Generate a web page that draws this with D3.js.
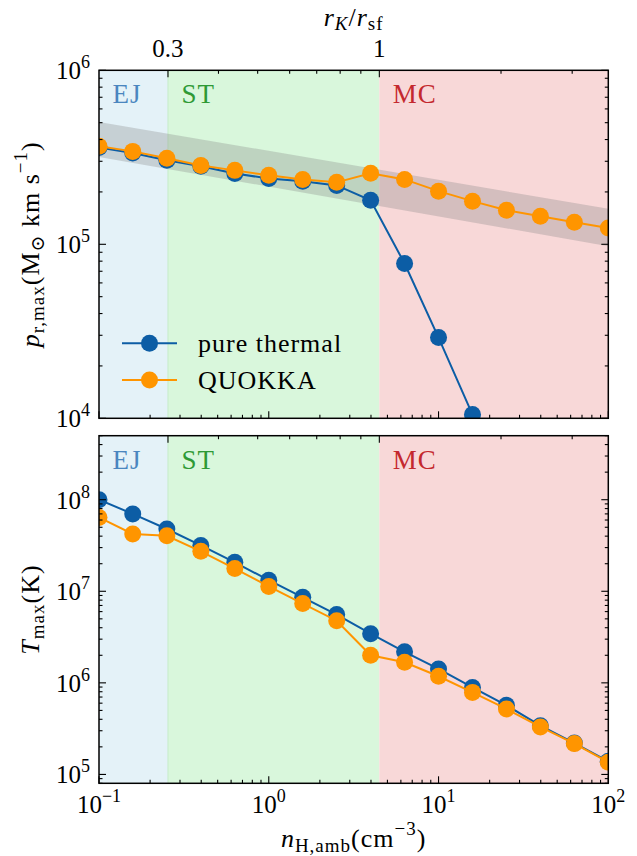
<!DOCTYPE html>
<html>
<head>
<meta charset="utf-8">
<script src="https://cdn.jsdelivr.net/npm/d3@7"></script>
<style>
body { margin: 0; background: #fff; }
svg { font-family: "Liberation Serif", "DejaVu Serif", serif; }
.spine { fill: none; stroke: #000; stroke-width: 1.5; }
.tk { stroke: #000; stroke-width: 1.1; }
.wide { letter-spacing: 1px; }
</style>
</head>
<body>
<script>
// ambient density grid (cm^-3)
var nH = [0.1, 0.158, 0.251, 0.398, 0.631, 1, 1.585, 2.512, 3.981, 6.31, 10, 15.85, 25.12, 39.81, 63.1, 100];
// peak radial momentum (Msun km/s)
var pThermal = [3.60e5, 3.35e5, 3.04e5, 2.81e5, 2.55e5, 2.39e5, 2.30e5, 2.18e5, 1.79e5, 7.75e4, 2.91e4, 1.05e4];
var pQuokka = [3.66e5, 3.42e5, 3.12e5, 2.84e5, 2.66e5, 2.49e5, 2.36e5, 2.27e5, 2.56e5, 2.36e5, 2.02e5, 1.77e5, 1.57e5, 1.45e5, 1.34e5, 1.24e5];
// peak temperature (K)
var tThermal = [1.0e8, 7.0e7, 4.79e7, 3.17e7, 2.07e7, 1.32e7, 8.6e6, 5.56e6, 3.44e6, 2.18e6, 1.42e6, 8.9e5, 5.68e5, 3.41e5, 2.2e5, 1.39e5];
var tQuokka = [6.4e7, 4.22e7, 4.04e7, 2.73e7, 1.77e7, 1.13e7, 7.35e6, 4.77e6, 2.0e6, 1.68e6, 1.18e6, 7.87e5, 5.19e5, 3.3e5, 2.17e5, 1.36e5];
// shaded band
var bandN = [0.1, 100];
var bandLow = [3.18e5, 9.75e4];
var bandHigh = [5.05e5, 1.60e5];
// regimes, edges given in r_K/r_sf
var regionNames = ["EJ", "ST", "MC"];
var regionR = [0.3, 1];
var regionFill = ["#e4f2f8", "#d9f7dc", "#f8d8d8"];
var regionText = ["#4a86bf", "#2e9a35", "#c4282e"];
// top axis r_K/r_sf
var rMajor = [0.3, 1];
var rMinor = [0.4, 0.5, 0.6, 0.7, 0.8, 0.9, 2, 3];
var nAtR1 = 4.48, rSlope = 0.42;
var xTickExp = [-1, 0, 1, 2];
var seriesNames = ["pure thermal", "QUOKKA"];
var seriesColors = ["#0C5DA5", "#FF9500"];

var W = 637, H = 856;
var left = 99, right = 608.3;
var panels = [
    { y0: 70.3, y1: 418.3, dom: [1e4, 1e6], series: [pThermal, pQuokka] },
    { y0: 435.7, y1: 783.3, dom: [8e4, 5e8], series: [tThermal, tQuokka] }
];
var fs = 25, fsSmall = 18, fsT = 26, fsTs = 19;

function nFromR(r) { return nAtR1 * Math.pow(r, 1 / rSlope); }

var x = d3.scaleLog().domain([0.1, 100]).range([left, right]);

var svg = d3.select("body").append("svg")
    .attr("width", W)
    .attr("height", H);

function powText(sel, k) {
    sel.append("tspan").text("10");
    sel.append("tspan")
        .attr("dy", -11)
        .attr("font-size", fsSmall)
        .text(k < 0 ? "\u2212" + (-k) : k);
}

var line = d3.line();

panels.forEach(function(p, pi) {
    var y = d3.scaleLog().domain(p.dom).range([p.y1, p.y0]);
    var g = svg.append("g");
    var cid = "clip" + pi;
    g.append("clipPath").attr("id", cid)
        .append("rect")
        .attr("x", left).attr("y", p.y0)
        .attr("width", right - left).attr("height", p.y1 - p.y0);

    // regime backgrounds
    var edges = [0.1].concat(regionR.map(nFromR)).concat([100]);
    regionNames.forEach(function(name, i) {
        g.append("rect")
            .attr("x", x(edges[i]))
            .attr("y", p.y0)
            .attr("width", x(edges[i + 1]) - x(edges[i]))
            .attr("height", p.y1 - p.y0)
            .attr("fill", regionFill[i]);
        g.append("text")
            .attr("class", "wide")
            .attr("x", x(edges[i]) + 13.5)
            .attr("y", p.y0 + 33)
            .attr("font-size", 27)
            .attr("fill", regionText[i])
            .text(name);
    });
    g.append("line")
        .attr("x1", x(edges[1])).attr("x2", x(edges[1]))
        .attr("y1", p.y0).attr("y2", p.y1)
        .attr("stroke", "#c6ecc9").attr("stroke-width", 1);

    var plot = g.append("g").attr("clip-path", "url(#" + cid + ")");
    if (pi === 0) {
        var area = d3.area()
            .x(function(d, i) { return x(bandN[i]); })
            .y0(function(d, i) { return y(bandLow[i]); })
            .y1(function(d, i) { return y(bandHigh[i]); });
        plot.append("path")
            .datum(bandN)
            .attr("d", area)
            .attr("fill", "#808080")
            .attr("fill-opacity", 0.3);
    }
    p.series.forEach(function(vals, si) {
        var pts = vals.map(function(v, i) { return [x(nH[i]), y(v)]; });
        plot.append("path")
            .attr("d", line(pts))
            .attr("fill", "none")
            .attr("stroke", seriesColors[si])
            .attr("stroke-width", 2);
        plot.selectAll(null)
            .data(pts)
            .enter()
            .append("circle")
            .attr("cx", function(d) { return d[0]; })
            .attr("cy", function(d) { return d[1]; })
            .attr("r", 8.5)
            .attr("fill", seriesColors[si]);
    });

    // y ticks on both sides
    y.ticks().forEach(function(t) {
        var e = Math.log10(t);
        var major = Math.abs(e - Math.round(e)) < 1e-6;
        var len = major ? 7 : 3.5;
        var yy = y(t);
        g.append("line").attr("class", "tk")
            .attr("x1", left).attr("x2", left + len).attr("y1", yy).attr("y2", yy);
        g.append("line").attr("class", "tk")
            .attr("x1", right).attr("x2", right - len).attr("y1", yy).attr("y2", yy);
        if (major) {
            g.append("text")
                .attr("x", 90)
                .attr("y", yy + 9)
                .attr("text-anchor", "end")
                .attr("font-size", fs)
                .call(powText, Math.round(e));
        }
    });
    // n ticks along bottom
    x.ticks().forEach(function(t) {
        var e = Math.log10(t);
        var major = Math.abs(e - Math.round(e)) < 1e-6;
        var len = major ? 7 : 3.5;
        g.append("line").attr("class", "tk")
            .attr("x1", x(t)).attr("x2", x(t)).attr("y1", p.y1).attr("y2", p.y1 - len);
    });
    // r_K/r_sf ticks along top
    rMajor.concat(rMinor).forEach(function(r, i) {
        var len = i < rMajor.length ? 7 : 3.5;
        var xx = x(nFromR(r));
        g.append("line").attr("class", "tk")
            .attr("x1", xx).attr("x2", xx).attr("y1", p.y0).attr("y2", p.y0 + len);
    });
    g.append("rect").attr("class", "spine")
        .attr("x", left).attr("y", p.y0)
        .attr("width", right - left).attr("height", p.y1 - p.y0);
});

// top axis labels
rMajor.forEach(function(r) {
    svg.append("text")
        .attr("x", x(nFromR(r)))
        .attr("y", 57)
        .attr("text-anchor", "middle")
        .attr("font-size", fs)
        .text(r);
});
var rt = svg.append("text")
    .attr("class", "wide")
    .attr("x", (left + right) / 2)
    .attr("y", 26)
    .attr("text-anchor", "middle")
    .attr("font-size", fsT);
rt.append("tspan").attr("font-style", "italic").text("r");
rt.append("tspan").attr("font-style", "italic").attr("font-size", fsTs).attr("dy", 4).text("K");
rt.append("tspan").attr("dy", -4).text("/");
rt.append("tspan").attr("font-style", "italic").text("r");
rt.append("tspan").attr("font-size", fsTs).attr("dy", 4).text("sf");

// bottom axis labels
xTickExp.forEach(function(k) {
    svg.append("text")
        .attr("x", x(Math.pow(10, k)))
        .attr("y", 813)
        .attr("text-anchor", "middle")
        .attr("font-size", fs)
        .call(powText, k);
});
var xt = svg.append("text")
    .attr("class", "wide")
    .attr("x", (left + right) / 2)
    .attr("y", 847)
    .attr("text-anchor", "middle")
    .attr("font-size", fsT);
xt.append("tspan").attr("font-style", "italic").text("n");
xt.append("tspan").attr("font-size", fsTs).attr("dy", 5).text("H,amb");
xt.append("tspan").attr("dy", -5).text("(cm");
xt.append("tspan").attr("font-size", fsTs).attr("dy", -12).text("\u22123");
xt.append("tspan").attr("dy", 12).text(")");

// y axis titles
var yt1 = svg.append("text")
    .attr("class", "wide")
    .attr("transform", "translate(39," + ((panels[0].y0 + panels[0].y1) / 2) + ") rotate(-90)")
    .attr("text-anchor", "middle")
    .attr("font-size", fsT);
yt1.append("tspan").attr("font-style", "italic").text("p");
yt1.append("tspan").attr("font-size", fsTs).attr("dy", 5).text("r,max");
yt1.append("tspan").attr("dy", -5).text("(M");
yt1.append("tspan").attr("font-size", fsTs).attr("dy", 5).text("\u2299");
yt1.append("tspan").attr("dy", -5).text(" km s");
yt1.append("tspan").attr("font-size", fsTs).attr("dy", -12).text("\u22121");
yt1.append("tspan").attr("dy", 12).text(")");

var yt2 = svg.append("text")
    .attr("class", "wide")
    .attr("transform", "translate(39," + ((panels[1].y0 + panels[1].y1) / 2) + ") rotate(-90)")
    .attr("text-anchor", "middle")
    .attr("font-size", fsT);
yt2.append("tspan").attr("font-style", "italic").text("T");
yt2.append("tspan").attr("font-size", fsTs).attr("dy", 5).text("max");
yt2.append("tspan").attr("dy", -5).text("(K)");

// legend
var leg = svg.append("g");
seriesNames.forEach(function(name, i) {
    var ly = 343.3 + i * 36.7;
    leg.append("line")
        .attr("x1", 122).attr("x2", 177).attr("y1", ly).attr("y2", ly)
        .attr("stroke", seriesColors[i]).attr("stroke-width", 2);
    leg.append("circle")
        .attr("cx", 149.5).attr("cy", ly).attr("r", 8.5)
        .attr("fill", seriesColors[i]);
    leg.append("text")
        .attr("class", "wide")
        .attr("x", 198).attr("y", ly + 8.5)
        .attr("font-size", fsT)
        .text(name);
});
</script>
</body>
</html>
